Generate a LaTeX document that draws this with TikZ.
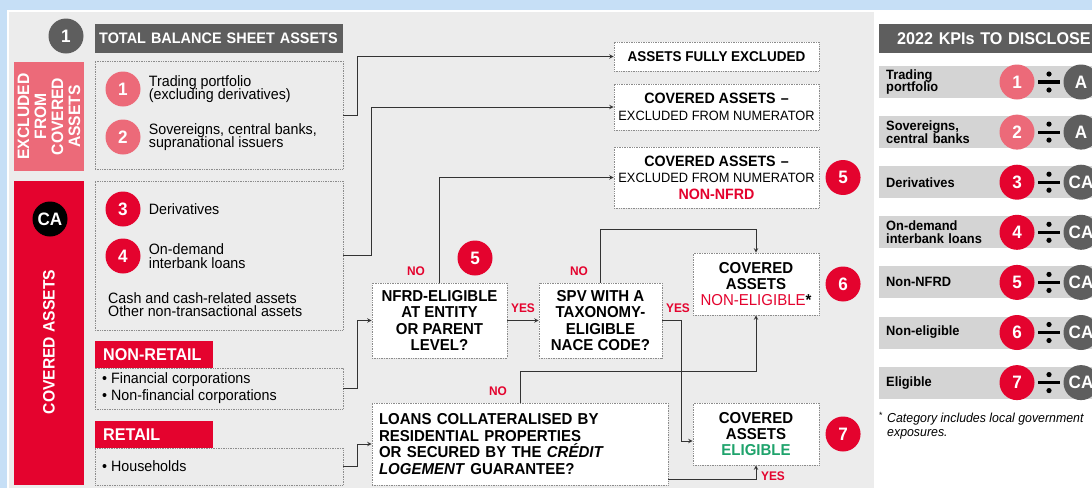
\documentclass[tikz,border=0pt]{standalone}
\usepackage{fontspec}
\setmainfont{Liberation Sans}[FakeStretch=0.95]
\usetikzlibrary{positioning}
\definecolor{bgblue}{HTML}{C6DFF6}
\definecolor{panelg}{HTML}{ECECEC}
\definecolor{darkg}{HTML}{5E5E5E}
\definecolor{redc}{HTML}{E4032E}
\definecolor{pinkc}{HTML}{EC6A79}
\definecolor{kpig}{HTML}{D4D4D4}
\definecolor{greenc}{HTML}{1FA36C}
\definecolor{linec}{HTML}{333333}
\definecolor{dotc}{HTML}{8C8C8C}
\lineskiplimit=-20pt
\begin{document}
\begin{tikzpicture}[x=1pt,y=-1pt,>=stealth,
  num/.style={circle,minimum size=35pt,inner sep=0pt,text=white,font=\bfseries\fontsize{18}{18}\selectfont},
  hdr/.style={fill=darkg,text=white,anchor=west,minimum height=29pt,inner ysep=0pt,font=\bfseries\fontsize{15.2}{16}\selectfont},
  tag/.style={fill=redc,text=white,anchor=west,minimum height=27pt,inner ysep=0pt,inner xsep=8pt,text width=102pt,font=\bfseries\fontsize{17}{17}\selectfont},
  side/.style={text=white,inner sep=0pt,rotate=90,align=center,font=\bfseries\fontsize{16.5}{17}\selectfont},
  grpbox/.style={draw=dotc,densely dotted,line width=0.7pt,minimum width=248pt,inner sep=0pt},
  flow/.style={draw=dotc,densely dotted,line width=0.7pt,fill=white,align=center,inner sep=0pt,font=\bfseries\fontsize{15.8}{16.4}\selectfont},
  txt/.style={inner sep=0pt,align=left,anchor=west,font=\fontsize{15}{13.3}\selectfont},
  yesno/.style={text=redc,inner sep=0pt,font=\bfseries\fontsize{12.5}{12.5}\selectfont},
  link/.style={->,draw=linec,line width=1pt},
  kpi/.style={fill=kpig,anchor=west,minimum height=32pt,inner ysep=0pt,inner xsep=7pt,text width=206pt,align=left,font=\bfseries\fontsize{13.5}{12.8}\selectfont}]

  \useasboundingbox (0,0) rectangle (1092,488);
  \fill[bgblue] (0,0) rectangle (1092,488);
  \fill[white] (7,10) rectangle (1092,488);
  \fill[panelg] (9,12) rectangle (874,488);

  % left column
  \node[num,fill=darkg] (top1) at (66,36) {1};
  \node[hdr,text width=240pt,inner xsep=4pt] (total) at (95,38.5) {TOTAL BALANCE SHEET ASSETS};

  \node[side,fill=pinkc,minimum width=109pt,minimum height=70pt] (exside) at (49,116.5) {EXCLUDED\\FROM\\COVERED\\ASSETS};
  \node[grpbox,minimum height=108pt] (exbox) at (219,115) {};
  \node[num,fill=pinkc] (c1) at (123,89) {1};
  \node[num,fill=pinkc] (c2) at (123,137) {2};
  \node[txt,right=8pt of c1] (t1) {Trading portfolio\\(excluding derivatives)};
  \node[txt,right=8pt of c2] (t2) {Sovereigns, central banks,\\supranational issuers};

  \node[fill=redc,minimum width=70pt,minimum height=304pt,inner sep=0pt] (caside) at (49,333) {};
  \node[side] (catext) at (49,342) {COVERED ASSETS};
  \node[num,fill=black] (ca) at (50,219) {CA};
  \node[grpbox,minimum height=149pt] (cabox) at (219,255.5) {};
  \node[num,fill=redc] (c3) at (123,209) {3};
  \node[num,fill=redc] (c4) at (123,256) {4};
  \node[txt,right=8pt of c3] (t3) {Derivatives};
  \node[txt,right=8pt of c4] (t4) {On-demand\\interbank loans};
  \node[txt] (cash) at (108,304.5) {Cash and cash-related assets\\Other non-transactional assets};

  \node[tag] (nonret) at (95,354.5) {NON-RETAIL};
  \node[grpbox,minimum height=41pt] (nrbox) at (219,388.5) {};
  \node[txt,font=\fontsize{15}{17}\selectfont] (nrtext) at (102,388.5) {• Financial corporations\\• Non-financial corporations};

  \node[tag] (ret) at (95,434.5) {RETAIL};
  \node[grpbox,minimum height=37pt] (rbox) at (219,466.5) {};
  \node[txt] (rtext) at (102,466.5) {• Households};

  % decision flow
  \node[flow,minimum width=205pt,minimum height=29pt,font=\bfseries\fontsize{14.2}{15}\selectfont] (fully) at (716.5,56.5) {ASSETS FULLY EXCLUDED};
  \node[flow,minimum width=205pt,minimum height=46pt,font=\bfseries\fontsize{15}{16.8}\selectfont] (numer) at (716.5,107)
    {COVERED ASSETS\,\,–\\{\mdseries\fontsize{13.5}{16.8}\selectfont EXCLUDED FROM NUMERATOR}};
  \node[flow,minimum width=205pt,minimum height=61pt,font=\bfseries\fontsize{15}{16.5}\selectfont] (nonnfrd) at (716.5,177.5)
    {COVERED ASSETS\,\,–\\{\mdseries\fontsize{13.5}{16.5}\selectfont EXCLUDED FROM NUMERATOR}\\\textcolor{redc}{NON-NFRD}};
  \node[num,fill=redc,right=6pt of nonnfrd] (r5) {5};

  \node[flow,minimum width=135pt,minimum height=75pt] (nfrd) at (439.5,320.5) {NFRD-ELIGIBLE\\AT ENTITY\\OR PARENT\\LEVEL?};
  \node[num,fill=redc] (n5) at (475,258) {5};
  \node[flow,minimum width=123pt,minimum height=75pt] (spv) at (600.5,320.5) {SPV WITH A\\TAXONOMY-\\ELIGIBLE\\NACE CODE?};
  \node[flow,minimum width=126pt,minimum height=62pt] (noneli) at (756,284) {COVERED\\ASSETS\\{\mdseries\color{redc}NON-ELIGIBLE}*};
  \node[num,fill=redc,right=6pt of noneli] (r6) {6};
  \node[flow,minimum width=126pt,minimum height=62pt] (eli) at (756,434) {COVERED\\ASSETS\\\textcolor{greenc}{ELIGIBLE}};
  \node[num,fill=redc,right=6pt of eli] (r7) {7};
  \node[flow,minimum width=296pt,minimum height=82pt,align=left,text width=282pt,inner xsep=7pt] (loans) at (520,444)
    {LOANS COLLATERALISED BY\\RESIDENTIAL PROPERTIES\\OR SECURED BY THE \textit{CRÉDIT}\\\textit{LOGEMENT} GUARANTEE?};

  \draw[link] (exbox.east) -- ++(14,0) |- (fully.west);
  \draw[link] (cabox.east) -- (cabox.east -| nfrd.west) |- (numer.west);
  \draw[link] (nfrd.north) |- (nonnfrd.west);
  \draw[link] (nfrd.east) -- (spv.west);
  \draw[link] (spv.north) -- ++(0,-53) -| (noneli.north);
  \draw[link] (spv.east) -- ++(19,0) |- ([yshift=-7pt]eli.west);
  \draw[link] (loans.north) -- ++(0,-31) -| (noneli.south);
  \draw[link] ([yshift=6pt]loans.south east) -| (eli.south);
  \draw[link] (nrbox.east) -- ++(14,0) |- (nfrd.west);
  \draw[link] (rbox.east) -- ++(14,0) |- (loans.west);

  \node[yesno] (no1) at (416,271) {NO};
  \node[yesno] (yes1) at (523,308) {YES};
  \node[yesno] (no2) at (579,271) {NO};
  \node[yesno] (yes2) at (678,308) {YES};
  \node[yesno] (no3) at (498,391) {NO};
  \node[yesno] (yes3) at (773,476) {YES};

  % KPI panel
  \node[hdr,text width=200pt,inner xsep=18pt,font=\bfseries\fontsize{17}{17}\selectfont] (kpihdr) at (879,38.5) {2022 KPIs TO DISCLOSE};
  \foreach \i/\lab/\col/\den in {1/{Trading\\portfolio}/pinkc/A, 2/{Sovereigns,\\central banks}/pinkc/A,
      3/Derivatives/redc/CA, 4/{On-demand\\interbank loans}/redc/CA, 5/Non-NFRD/redc/CA,
      6/Non-eligible/redc/CA, 7/Eligible/redc/CA}{
    \pgfmathsetmacro\yy{82+50.1*(\i-1)}
    \node[kpi] (kpi\i) at (879,\yy) {\lab};
    \node[num,fill=\col] (kn\i) at (1017,\yy) {\i};
    \fill (1038,\yy-1.6) rectangle (1060,\yy+1.6);
    \fill (1049,\yy-8) circle (2.6pt) (1049,\yy+8) circle (2.6pt);
    \node[num,fill=darkg] (kd\i) at (1081,\yy) {\den};
  }
  \node[anchor=north west,inner sep=0pt,align=left,font=\itshape\fontsize{13}{13.5}\selectfont] (note) at (879,412)
    {\makebox[8pt][l]{\upshape\textsuperscript{*}}Category includes local government\\\hspace*{8pt}exposures.};
\end{tikzpicture}
\end{document}
